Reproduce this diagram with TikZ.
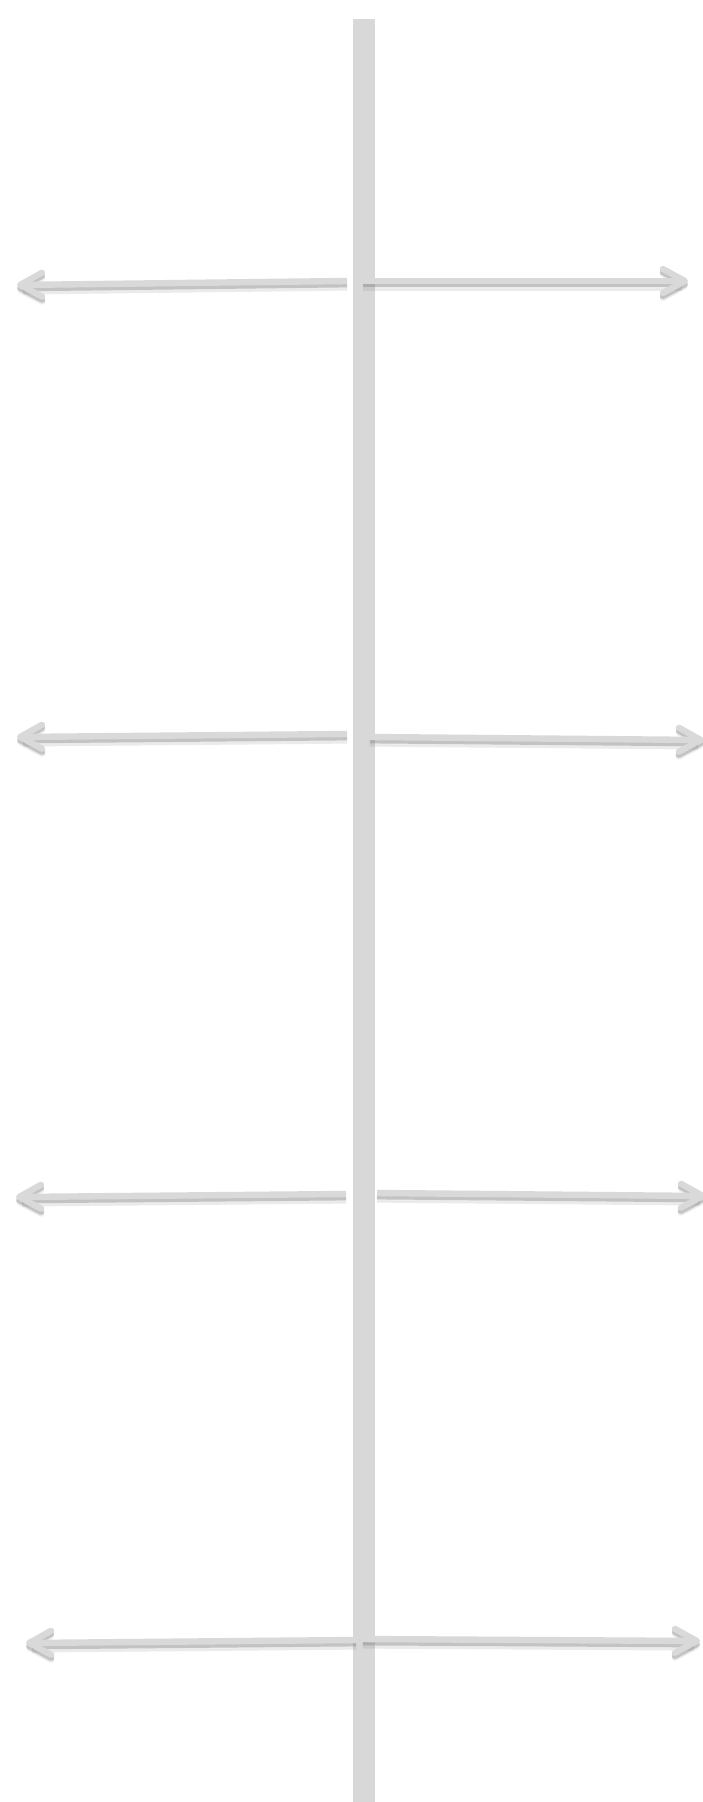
\documentclass[tikz,border=0pt]{standalone}
\usetikzlibrary{arrows.meta}
\definecolor{barcol}{HTML}{D8D8D8}
\definecolor{arrcol}{HTML}{D9D9D9}
\definecolor{shadcol}{HTML}{7A7A7A}
\tikzset{
  tipstyle/.style={-{Straight Barb[length=11pt,width=12pt,line width=3.1pt,round]}},
  shaft/.style={draw=arrcol, line width=3.2pt, tipstyle},
  shad/.style={draw=shadcol, line width=3.4pt, opacity=0.35, tipstyle, transform canvas={yshift=-1.5pt}},
  shadb/.style={draw=shadcol, line width=4.8pt, opacity=0.15, tipstyle, transform canvas={yshift=-2.4pt}},
}
\begin{document}
\begin{tikzpicture}[x=0.5pt,y=-0.5pt]
\useasboundingbox[fill=white] (0,0) rectangle (702,1802);
\fill[barcol] (353,19) rectangle (375,1802);
% coordinates
\coordinate (l1s) at (347,281); \coordinate (l1e) at (17,285);
\coordinate (r1s) at (363,281); \coordinate (r1e) at (688,281);
\coordinate (l2s) at (347,734); \coordinate (l2e) at (17,737);
\coordinate (r2s) at (370,737); \coordinate (r2e) at (704,740);
\coordinate (l3s) at (346,1194); \coordinate (l3e) at (16,1197);
\coordinate (r3s) at (377,1193); \coordinate (r3e) at (706,1196);
\coordinate (l4s) at (356,1640); \coordinate (l4e) at (26,1643);
\coordinate (r4s) at (363,1639); \coordinate (r4e) at (700,1641);
\foreach \a in {l1,r1,l2,r2,l3,r3,l4,r4}{
  \draw[shadb] (\a s) -- (\a e);
  \draw[shad] (\a s) -- (\a e);
}
\foreach \a in {l1,r1,l2,r2,l3,r3,l4,r4}{
  \draw[shaft] (\a s) -- (\a e);
}
\end{tikzpicture}
\end{document}
